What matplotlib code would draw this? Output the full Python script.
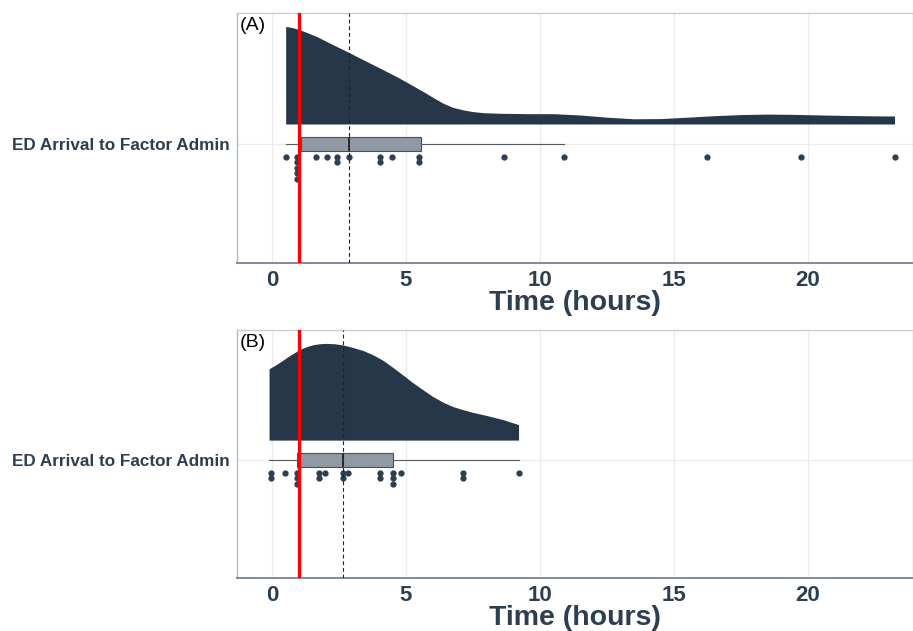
import matplotlib
matplotlib.use("Agg")
import matplotlib.pyplot as plt
import numpy as np
from collections import Counter

plt.rcParams['font.family'] = ['Liberation Sans', 'DejaVu Sans']

# ---------------- data ----------------
category = "ED Arrival to Factor Admin"
panel_tags = ["(A)", "(B)"]
x_ticks = [0, 5, 10, 15, 20]
x_label = "Time (hours)"
target_hours = 1.0

# panel A: observations (hours) as binned in the dot plot
dots_a = [0.51, 0.92, 0.92, 0.92, 0.92, 0.92, 1.63, 2.05, 2.42, 2.42, 2.88,
          4.02, 4.02, 4.48, 5.49, 5.49, 8.66, 10.9, 16.24, 19.73, 23.23]
# panel B
dots_b = [-0.05, -0.05, 0.49, 0.92, 0.92, 0.92, 1.75, 1.75, 1.99, 2.64, 2.64,
          2.85, 4.02, 4.02, 4.53, 4.53, 4.53, 4.80, 7.14, 7.14, 9.2]

# box statistics: whisker low, q1, median, q3, whisker high
box_a = [0.51, 1.08, 2.88, 5.56, 10.9]
box_b = [-0.11, 0.93, 2.66, 4.53, 9.2]

# density curves (relative height)
dens_a_x = [0.51, 0.75, 1.04, 1.3, 1.67, 1.9, 2.16, 2.5, 2.88, 3.25, 3.66,
            4.1, 4.65, 5.1, 5.65, 6.0, 6.39, 6.75, 7.14, 7.5, 7.89, 8.5,
            9.63, 10.5, 11.5, 12.5, 13.5, 14.5, 15.5, 16.5, 17.5, 18.5,
            19.5, 20.5, 21.5, 22.5, 23.23]
dens_a_h = [97.3, 96.3, 94, 91.3, 87.3, 84.2, 80.7, 76.2, 71.3, 66.2, 60.7,
            54.8, 47.3, 40.6, 32.3, 26.6, 20.7, 16.6, 14, 12.4, 11.3, 10.7,
            10.3, 10.3, 9, 6.8, 5.2, 5.4, 6.8, 8.3, 9.4, 9.9, 9.6, 9.0,
            8.5, 8.1, 8.0]
dens_b_x = [-0.11, 0.1, 0.3, 0.6, 1.02, 1.3, 1.54, 1.8, 2.04, 2.35, 2.66,
            3.0, 3.41, 3.8, 4.15, 4.5, 4.9, 5.25, 5.65, 6.0, 6.39, 6.75,
            7.14, 7.5, 7.89, 8.25, 8.63, 9.2]
dens_b_h = [72.3, 75.6, 79, 84.6, 91.7, 94.8, 96.7, 97.7, 98, 97.6, 96.3,
            94.0, 90.7, 86.0, 80.7, 73.9, 65.7, 58.3, 50.7, 44.2, 38.3,
            34.0, 30.7, 28.1, 25.7, 23.3, 20.7, 15.7]

# ---------------- style ----------------
NAVY = "#2c3e50"
DENS = "#26374a"
GRID = "#ebebeb"
W, H = 913, 631

fig = plt.figure(figsize=(W / 100, H / 100), dpi=100)

def px_axes(left, top, right, bottom):
    return fig.add_axes([left / W, 1 - bottom / H, (right - left) / W, (bottom - top) / H])

panels = [
    dict(ax=px_axes(237, 13, 913, 263), dots=dots_a, box=box_a,
         dx=dens_a_x, dh=dens_a_h, tag=panel_tags[0]),
    dict(ax=px_axes(237, 330, 913, 578), dots=dots_b, box=box_b,
         dx=dens_b_x, dh=dens_b_h, tag=panel_tags[1]),
]

ycat = 1.0
unit = 125.0  # px per y unit
for p in panels:
    ax = p["ax"]
    ax.set_xlim(-1.306, 23.92)
    ax.set_ylim(ycat - 119 / unit, ycat + 131 / unit)
    ax.set_facecolor("white")

    # grid
    for t in x_ticks:
        ax.axvline(t, color=GRID, lw=0.9, zorder=0)
    ax.axhline(ycat, color=GRID, lw=0.9, zorder=0)

    # density (half eye)
    dx = np.array(p["dx"])
    dh = np.array(p["dh"])
    base = ycat + 20 / unit
    top = base + dh / max(dh) * (97.5 / unit)
    ax.fill_between(dx, base, top, color=DENS, lw=0, zorder=2)

    # box plot
    wl, q1, med, q3, wh = p["box"]
    stats = [dict(whislo=wl, q1=q1, med=med, q3=q3, whishi=wh, fliers=[])]
    ax.bxp(stats, positions=[ycat], vert=False, widths=14 / unit,
           patch_artist=True, showcaps=False, showfliers=False,
           boxprops=dict(facecolor="#8f9aa5", edgecolor="#4a4f55", lw=0.8),
           whiskerprops=dict(color="#555a60", lw=0.8),
           medianprops=dict(color="#1e1e1e", lw=1.2), zorder=3,
           manage_ticks=False)

    # dots (stacked downward)
    counts = Counter(p["dots"])
    xs, ys = [], []
    for v, c in counts.items():
        for k in range(c):
            xs.append(v)
            ys.append(ycat - (12.7 + 5.6 * k) / unit)
    ax.plot(xs, ys, "o", ms=3.5, color=NAVY, mec=NAVY, zorder=4, ls="none")

    # reference lines
    ax.axvline(target_hours, color="#ff0000", lw=2.4, zorder=5)
    ax.axvline(med, color="#222222", lw=0.8, ls=(0, (3.5, 2.5)), zorder=5)

    # axes decoration
    ax.set_xticks(x_ticks)
    ax.set_xticklabels([str(t) for t in x_ticks], fontsize=16,
                       fontweight="bold", color=NAVY)
    ax.tick_params(axis="x", length=0, pad=5)
    ax.set_yticks([ycat])
    ax.set_yticklabels([category], fontsize=12.3, fontweight="bold", color=NAVY)
    ax.tick_params(axis="y", length=0, pad=5)
    ax.set_xlabel(x_label, fontsize=20.5, fontweight="bold", color=NAVY,
                  labelpad=-1)
    for s in ["top", "right"]:
        ax.spines[s].set_color("#cccccc")
        ax.spines[s].set_linewidth(1.0)
    ax.spines["left"].set_color("#b0b8c0")
    ax.spines["left"].set_linewidth(1.0)
    ax.spines["bottom"].set_color("#7f8c99")
    ax.spines["bottom"].set_linewidth(1.4)
    ax.text(0.004, 0.985, p["tag"], transform=ax.transAxes, ha="left",
            va="top", fontsize=14, color="black", zorder=6)

fig.savefig("out.png", dpi=100)
